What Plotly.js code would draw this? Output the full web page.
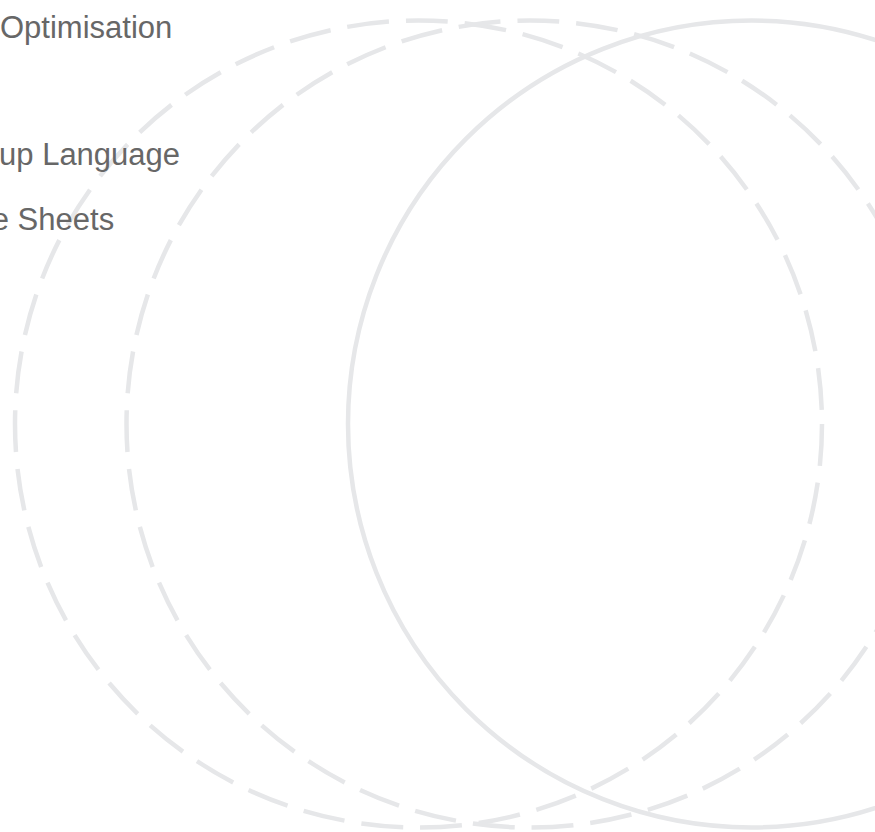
<!DOCTYPE html>
<html>
<head>
<meta charset="utf-8">
<script src="https://cdn.plot.ly/plotly-3.0.1.min.js"></script>
<style>
  html, body { margin: 0; padding: 0; background: #ffffff; overflow: hidden; }
  #chart { width: 875px; height: 832px; }
</style>
</head>
<body>
<div id="chart"></div>
<script>
// ---- data ----
var categories = ["Search Engine Optimisation", "HyperText Markup Language", "Cascading Style Sheets"];
var setCenterX = [4.185, 5.30, 7.515];   // circle centre, x (data units)
var setCenterY = [4.24, 4.24, 4.24];     // circle centre, y (data units)
var setRadius  = [4.035, 4.035, 4.035];  // circle radius (data units)
var setDashed  = [true, true, false];

// ---- layout (positions / styles) ----
var labelRightPx = [174, 182, 116];      // right end of each label, pixels
var labelMidPx   = [28, 155, 220];       // vertical middle of each label, pixels
var circleColor = "#e6e7e9";
var textColor = "#676767";
var W = 875, H = 832;

var shapes = categories.map(function (c, i) {
  return {
    type: "circle",
    xref: "x", yref: "y",
    x0: setCenterX[i] - setRadius[i],
    x1: setCenterX[i] + setRadius[i],
    y0: setCenterY[i] - setRadius[i],
    y1: setCenterY[i] + setRadius[i],
    line: { color: circleColor, width: 4.5, dash: setDashed[i] ? "42px,17px" : "solid" },
    fillcolor: "rgba(0,0,0,0)",
    layer: "above"
  };
});

var annotations = categories.map(function (c, i) {
  return {
    xref: "paper", yref: "paper",
    x: labelRightPx[i] / W,
    y: 1 - labelMidPx[i] / H,
    xanchor: "right", yanchor: "middle",
    text: c,
    showarrow: false,
    font: { family: "Liberation Sans, Arial, sans-serif", size: 31, color: textColor }
  };
});

var layout = {
  width: W, height: H,
  margin: { l: 0, r: 0, t: 0, b: 0, pad: 0 },
  paper_bgcolor: "#ffffff",
  plot_bgcolor: "#ffffff",
  showlegend: false,
  xaxis: { range: [0, 8.75], visible: false, fixedrange: true },
  yaxis: { range: [8.32, 0], visible: false, fixedrange: true },
  shapes: shapes,
  annotations: annotations
};

Plotly.newPlot("chart", [{ x: [], y: [], type: "scatter", mode: "markers", hoverinfo: "skip" }], layout,
  { displayModeBar: false, staticPlot: true });
</script>
</body>
</html>
